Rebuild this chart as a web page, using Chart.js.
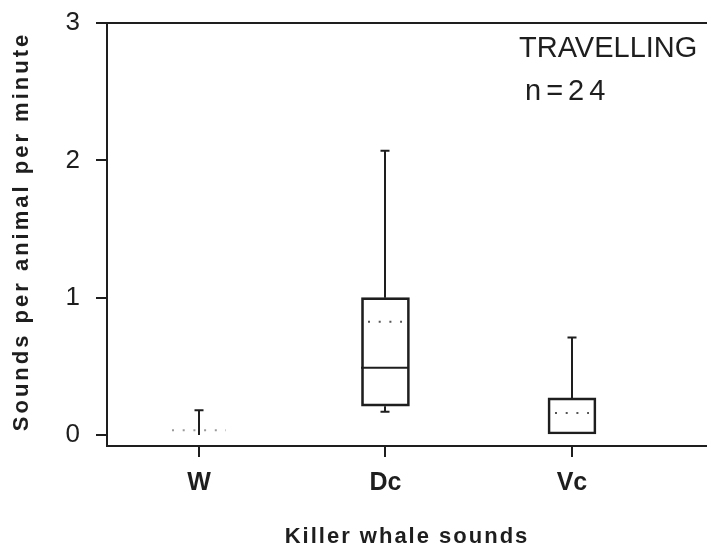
<!DOCTYPE html>
<html>
<head>
<meta charset="utf-8">
<title>Travelling - sounds per animal</title>
<script src="https://cdn.jsdelivr.net/npm/chart.js@4/dist/chart.umd.min.js"></script>
<style>
  html, body { margin: 0; padding: 0; background: #fff; }
  #wrap { width: 707px; height: 547px; }
</style>
</head>
<body>
<div id="wrap"><canvas id="boxChart" width="707" height="547"></canvas></div>
<script>
// sound types and where they sit on the x axis
const categories = ['W', 'Dc', 'Vc'];
const positions = [1, 2, 3];

// box plot statistics, sounds per animal per minute (W has no box)
const whiskerLow = [0, 0.17, 0];
const boxLow = [null, 0.21, 0];
const medians = [0, 0.49, 0];
const boxHigh = [null, 1.0, 0.27];
const whiskerHigh = [0.18, 2.07, 0.71];
const means = [0.035, 0.825, 0.16];

const yTickValues = [0, 1, 2, 3];

const INK = '#1e1e1e';
const BOX_W = 48;
const CAP_W = 9;
const meanSpan = [54, 34, 34];
const meanColor = ['#9a9a9a', '#555', '#555'];

const boxData = [];
positions.forEach((x, i) => {
    if (boxLow[i] !== null) boxData.push({ x: x, y: [boxLow[i], boxHigh[i]] });
});

// whiskers, medians and dotted means, placed through the scales
const boxExtras = {
    id: 'boxExtras',
    afterDatasetsDraw(chart) {
        const ctx = chart.ctx;
        const xs = chart.scales.x;
        const ys = chart.scales.y;
        const area = chart.chartArea;

        ctx.save();
        // top frame line
        ctx.strokeStyle = INK;
        ctx.lineWidth = 2;
        ctx.beginPath();
        ctx.moveTo(area.left, area.top);
        ctx.lineTo(area.right, area.top);
        ctx.stroke();

        positions.forEach((pos, i) => {
            const cx = Math.round(xs.getPixelForValue(pos));
            const lo = boxLow[i] !== null ? boxLow[i] : medians[i];
            const hi = boxHigh[i] !== null ? boxHigh[i] : medians[i];
            ctx.strokeStyle = INK;
            ctx.lineWidth = 2;
            ctx.setLineDash([]);

            if (whiskerHigh[i] > hi) {
                const y0 = ys.getPixelForValue(hi);
                const y1 = ys.getPixelForValue(whiskerHigh[i]);
                ctx.beginPath();
                ctx.moveTo(cx, y0);
                ctx.lineTo(cx, y1);
                ctx.moveTo(cx - CAP_W / 2, y1);
                ctx.lineTo(cx + CAP_W / 2, y1);
                ctx.stroke();
            }
            if (whiskerLow[i] < lo) {
                const y0 = ys.getPixelForValue(lo);
                const y1 = ys.getPixelForValue(whiskerLow[i]);
                ctx.beginPath();
                ctx.moveTo(cx, y0);
                ctx.lineTo(cx, y1);
                ctx.moveTo(cx - CAP_W / 2, y1);
                ctx.lineTo(cx + CAP_W / 2, y1);
                ctx.stroke();
            }
            // median, unless it sits on the box edge already
            if (boxLow[i] !== null && medians[i] > boxLow[i] && medians[i] < boxHigh[i]) {
                const ym = ys.getPixelForValue(medians[i]);
                ctx.beginPath();
                ctx.moveTo(cx - BOX_W / 2, ym);
                ctx.lineTo(cx + BOX_W / 2, ym);
                ctx.stroke();
            }

            // dotted mean
            const yMean = ys.getPixelForValue(means[i]);
            ctx.strokeStyle = meanColor[i];
            ctx.setLineDash([2, 8.7]);
            ctx.beginPath();
            ctx.moveTo(cx - meanSpan[i] / 2, yMean);
            ctx.lineTo(cx + meanSpan[i] / 2, yMean);
            ctx.stroke();
        });
        ctx.restore();
    },
    afterDraw(chart) {
        const ctx = chart.ctx;
        const area = chart.chartArea;
        ctx.save();
        ctx.fillStyle = INK;

        // axis titles
        ctx.font = 'bold 22px "Liberation Sans", Arial, sans-serif';
        ctx.letterSpacing = '2px';
        ctx.textAlign = 'center';
        ctx.textBaseline = 'middle';
        ctx.fillText('Killer whale sounds', (area.left + area.right) / 2, 537);

        ctx.save();
        ctx.translate(22, (area.top + area.bottom) / 2 - 3);
        ctx.rotate(-Math.PI / 2);
        ctx.letterSpacing = '3px';
        ctx.fillText('Sounds per animal per minute', 0, 0);
        ctx.restore();

        // annotation in the upper right
        ctx.font = '29px "Liberation Sans", Arial, sans-serif';
        ctx.textAlign = 'left';
        ctx.textBaseline = 'alphabetic';
        ctx.letterSpacing = '0px';
        ctx.fillText('TRAVELLING', 519, 57);
        ctx.letterSpacing = '5px';
        ctx.fillText('n=24', 525, 100);
        ctx.restore();
    }
};

new Chart(document.getElementById('boxChart'), {
    type: 'bar',
    data: {
        datasets: [{
            data: boxData,
            backgroundColor: 'rgba(255,255,255,0)',
            borderColor: INK,
            borderWidth: 2,
            borderSkipped: false,
            barThickness: BOX_W
        }]
    },
    options: {
        responsive: false,
        animation: false,
        layout: { padding: { top: 23, right: 0, left: 0, bottom: 0 } },
        plugins: {
            legend: { display: false },
            tooltip: { enabled: false }
        },
        scales: {
            x: {
                type: 'linear',
                offset: false,
                min: 0.507,
                max: 3.724,
                afterBuildTicks: (scale) => {
                    scale.ticks = positions.map(v => ({ value: v }));
                },
                afterFit: (scale) => {
                    scale.height = 101;
                    scale.paddingLeft = 0;
                    scale.paddingRight = 0;
                },
                ticks: {
                    callback: (v) => categories[positions.indexOf(v)],
                    color: INK,
                    padding: 11,
                    font: { family: '"Liberation Sans", Arial, sans-serif', size: 25, weight: 'bold' }
                },
                grid: { offset: false, drawOnChartArea: false, tickLength: 11, color: INK, lineWidth: 2 },
                border: { color: INK, width: 2 }
            },
            y: {
                min: -0.08,
                max: 3,
                afterBuildTicks: (scale) => {
                    scale.ticks = yTickValues.map(v => ({ value: v }));
                },
                afterFit: (scale) => {
                    scale.width = 107;
                    scale.paddingTop = 0;
                    scale.paddingBottom = 0;
                },
                ticks: {
                    color: INK,
                    padding: 16,
                    font: { family: '"Liberation Sans", Arial, sans-serif', size: 26 }
                },
                grid: { drawOnChartArea: false, tickLength: 11, color: INK, lineWidth: 2 },
                border: { color: INK, width: 2 }
            }
        }
    },
    plugins: [boxExtras]
});
</script>
</body>
</html>
